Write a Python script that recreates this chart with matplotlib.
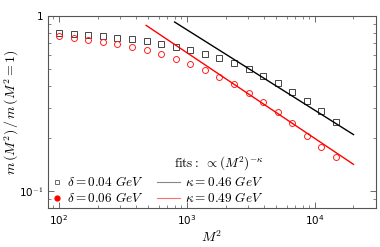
import numpy as np
import matplotlib
matplotlib.use("Agg")
import matplotlib.pyplot as plt
from matplotlib.lines import Line2D

plt.rcParams['mathtext.fontset'] = 'cm'

M2 = [100, 130, 169, 220, 286, 371, 483, 627, 816, 1060, 1379, 1792, 2330, 3029,
      3937, 5119, 6654, 8650, 11246, 14619]
m_d004 = [0.796, 0.789, 0.779, 0.769, 0.751, 0.736, 0.717, 0.692, 0.662, 0.637,
          0.607, 0.573, 0.539, 0.496, 0.452, 0.413, 0.368, 0.327, 0.285, 0.247]
m_d006 = [0.766, 0.749, 0.732, 0.710, 0.692, 0.665, 0.637, 0.607, 0.570, 0.530,
          0.491, 0.448, 0.407, 0.363, 0.321, 0.282, 0.244, 0.207, 0.179, 0.156]

kappa = [0.46, 0.49]
amp = [20.0, 18.2]
fit_start = [800, 480]
fit_end = [20000, 20000]

fig = plt.figure(figsize=(3.8, 2.47), dpi=100)
ax = fig.add_axes([48/380, 1-208/247, (376-48)/380, (208-16)/247])

ax.plot(M2, m_d004, ls='none', marker='s', ms=4.5, mfc='none', mec='#444444', mew=0.7)
ax.plot(M2, m_d006, ls='none', marker='o', ms=4.3, mfc='none', mec='#ff2020', mew=0.7)

cols = ['black', '#ff0000']
for k, a, s, e, c in zip(kappa, amp, fit_start, fit_end, cols):
    xs = np.array([s, e], dtype=float)
    ax.plot(xs, a * xs ** (-k), color=c, lw=1.0)

ax.set_xscale('log')
ax.set_yscale('log')
ax.set_xlim(82, 30000)
ax.set_ylim(0.08, 1.0)
ax.set_yticks([0.1, 1.0])
ax.set_yticklabels([r'10$^{-1}$', '1'])
ax.tick_params(which='both', direction='in', top=True, right=True, colors='#555555',
               labelcolor='black', labelsize=7.5)
ax.tick_params(which='major', length=4, width=0.6)
ax.tick_params(which='minor', length=2, width=0.5)
for sp in ax.spines.values():
    sp.set_color('#555555')
    sp.set_linewidth(0.8)

ax.set_xlabel(r'$M^2$', fontsize=10, labelpad=2)
ax.set_ylabel(r'$m\,(M^2)\,/\,m\,(M^2=1)$', fontsize=10)
ax.yaxis.set_label_coords(-0.082, 0.5)

h1 = [
    Line2D([], [], ls='none', marker='s', ms=3, mfc='none', mec='#555555', mew=0.6),
    Line2D([], [], ls='none', marker='o', ms=3.5, mfc='#ff0000', mec='#ff0000'),
]
l1 = [r'$\delta = 0.04\ GeV$', r'$\delta = 0.06\ GeV$']
h2 = [
    Line2D([], [], color='#888888', lw=0.8),
    Line2D([], [], color='#ff7070', lw=0.8),
]
l2 = [r'$\kappa = 0.46\ GeV$', r'$\kappa = 0.49\ GeV$']

leg1 = ax.legend(h1, l1, loc='lower left', bbox_to_anchor=(0.005, 0.0),
                 frameon=False, fontsize=9.5, handlelength=0.7, handletextpad=0.45,
                 labelspacing=0.15, borderpad=0.2, borderaxespad=0.0)
ax.add_artist(leg1)
leg2 = ax.legend(h2, l2, loc='lower left', bbox_to_anchor=(0.325, 0.0),
                 frameon=False, fontsize=9.5, handlelength=1.75, handletextpad=0.35,
                 labelspacing=0.15, borderpad=0.2, borderaxespad=0.0,
                 title=r'$\mathrm{fits{:}}\ \propto (M^2)^{-\kappa}$',
                 title_fontsize=9.5, alignment='right')

fig.savefig('out.png', dpi=100)
